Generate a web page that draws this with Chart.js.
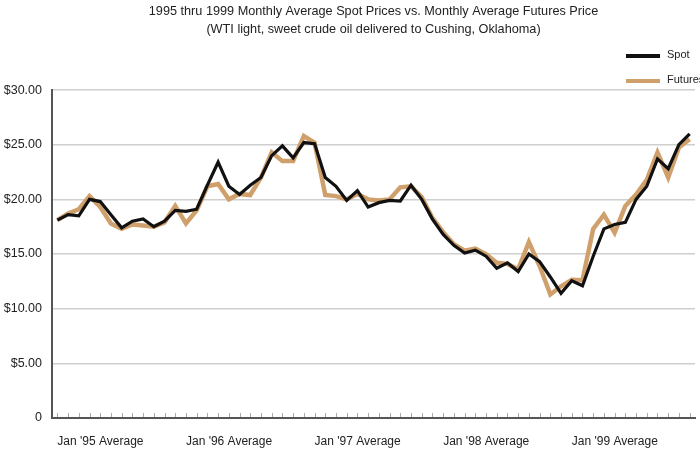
<!DOCTYPE html>
<html>
<head>
<meta charset="utf-8">
<script src="https://cdn.jsdelivr.net/npm/chart.js@4/dist/chart.umd.min.js"></script>
<style>
  html, body { margin: 0; padding: 0; background: #fff; }
  #wrap { width: 700px; height: 449px; }
</style>
</head>
<body>
<div id="wrap"><canvas id="oilChart"></canvas></div>
<script>
// Monthly averages, Jan 1995 .. Dec 1999 ($/barrel)
const years = ["'95", "'96", "'97", "'98", "'99"];
const yearLabels = ["Jan '95 Average", "Jan '96 Average", "Jan '97 Average", "Jan '98 Average", "Jan '99 Average"];

const spot = [
    18.1, 18.6, 18.5, 20.0, 19.8, 18.6, 17.4, 18.0, 18.2, 17.5, 18.0, 19.0,
    18.9, 19.1, 21.3, 23.4, 21.2, 20.45, 21.3, 22.0, 24.0, 24.9, 23.8, 25.2,
    25.1, 22.0, 21.2, 19.9, 20.8, 19.3, 19.7, 19.9, 19.85, 21.3, 20.0, 18.2,
    16.8, 15.8, 15.1, 15.35, 14.8, 13.7, 14.2, 13.4, 15.0, 14.3, 12.9, 11.4,
    12.55, 12.1, 14.8, 17.3, 17.7, 17.9, 20.0, 21.2, 23.7, 22.8, 25.0, 26.0
];
const futures = [
    18.1, 18.7, 19.1, 20.3, 19.3, 17.8, 17.3, 17.7, 17.6, 17.5, 17.9, 19.4,
    17.8, 19.0, 21.2, 21.4, 20.0, 20.5, 20.4, 22.0, 24.3, 23.5, 23.5, 25.8,
    25.2, 20.4, 20.3, 20.0, 20.5, 20.0, 19.9, 20.0, 21.1, 21.2, 20.2, 18.3,
    17.0, 15.9, 15.3, 15.5, 15.0, 14.2, 14.1, 13.6, 16.1, 13.9, 11.3, 12.05,
    12.65, 12.6, 17.3, 18.6, 16.95, 19.4, 20.45, 21.8, 24.3, 22.0, 24.75, 25.5
];

// one category per month, only January gets a label
const labels = [];
years.forEach((yr, y) => {
    for (let m = 0; m < 12; m++) labels.push(m === 0 ? yearLabels[y] : '');
});

const FONT = "'Liberation Sans', Arial, sans-serif";

// small month marks sitting on top of the x axis line
const monthTicks = {
    id: 'monthTicks',
    afterDatasetsDraw(chart) {
        const x = chart.scales.x, ctx = chart.ctx;
        const base = chart.chartArea.bottom;
        ctx.save();
        ctx.strokeStyle = '#aaa';
        ctx.lineWidth = 1;
        labels.forEach((l, i) => {
            const px = Math.round(x.getPixelForValue(i)) + 0.5;
            ctx.beginPath();
            ctx.moveTo(px, base - 5);
            ctx.lineTo(px, base - 1);
            ctx.stroke();
        });
        ctx.restore();
    }
};

// stacked legend in the top right corner
const sideLegend = {
    id: 'sideLegend',
    afterDraw(chart) {
        const ctx = chart.ctx;
        ctx.save();
        chart.data.datasets.forEach((ds, i) => {
            const y = 56 + i * 25;
            ctx.strokeStyle = ds.borderColor;
            ctx.lineWidth = 4;
            ctx.beginPath();
            ctx.moveTo(626, y);
            ctx.lineTo(660, y);
            ctx.stroke();
            ctx.fillStyle = '#222';
            ctx.font = '11px ' + FONT;
            ctx.textBaseline = 'middle';
            ctx.fillText(ds.label, 667, y - 1);
        });
        ctx.restore();
    }
};

new Chart(document.getElementById('oilChart'), {
    type: 'line',
    data: {
        labels: labels,
        datasets: [
            { label: 'Spot', data: spot, borderColor: '#111111', borderWidth: 3.2, pointRadius: 0, tension: 0 },
            { label: 'Futures', data: futures, borderColor: '#cfa06c', borderWidth: 4.5, pointRadius: 0, tension: 0 }
        ]
    },
    options: {
        responsive: true, maintainAspectRatio: false, animation: false,
        layout: { padding: { left: 0, right: 5, top: 0, bottom: 0 } },
        plugins: {
            legend: { display: false },
            tooltip: { enabled: false },
            title: {
                display: true,
                fullSize: false,
                text: ['1995 thru 1999 Monthly Average Spot Prices vs. Monthly Average Futures Price',
                       '(WTI light, sweet crude oil delivered to Cushing, Oklahoma)'],
                color: '#222',
                font: { family: FONT, size: 12.7, weight: 'normal', lineHeight: 1.42 },
                padding: { top: 2, bottom: 52 }
            }
        },
        scales: {
            x: {
                offset: true,
                grid: { display: false, drawTicks: false },
                border: { color: '#555', width: 2 },
                ticks: { autoSkip: false, maxRotation: 0, align: 'start', padding: 16, color: '#222', font: { family: FONT, size: 12 } },
                afterFit: s => { s.height = 31; s.paddingLeft = 0; s.paddingRight = 0; }
            },
            y: {
                min: 0, max: 30,
                grid: { color: '#cfcfcf', lineWidth: 1.5, drawTicks: false },
                border: { color: '#555', width: 2 },
                ticks: { stepSize: 5, padding: 10, color: '#222', font: { family: FONT, size: 12.5 },
                         callback: v => v === 0 ? '0' : '$' + v.toFixed(2) },
                afterFit: s => { s.width = 52; }
            }
        }
    },
    plugins: [monthTicks, sideLegend]
});
</script>
</body>
</html>
